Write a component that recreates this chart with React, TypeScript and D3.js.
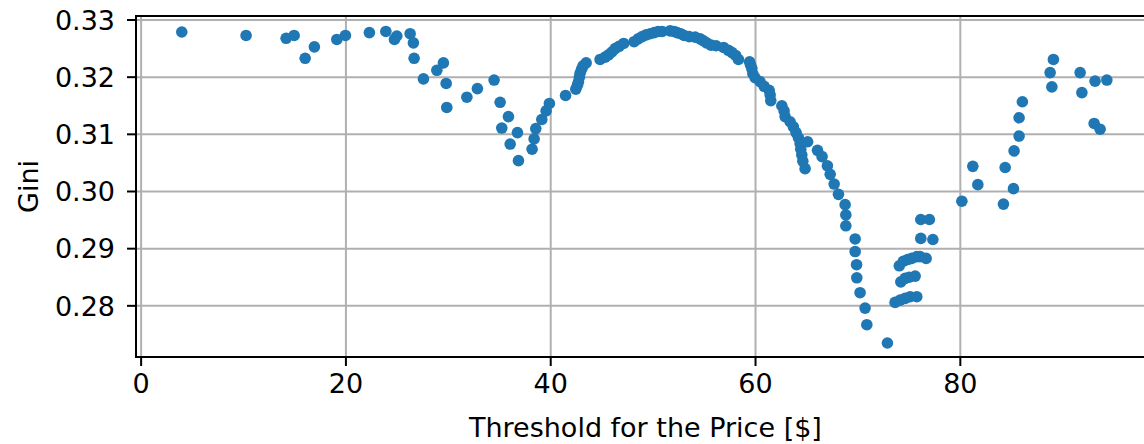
import React from "react";
import * as d3 from "d3";

// Price thresholds ($) and resulting Gini coefficient
const threshold: number[] = [
  3.97, 10.25, 14.16, 14.94, 16.02, 16.92, 19.11, 19.95, 22.29, 23.9,
  24.74, 24.97, 26.27, 26.59, 26.66, 27.57, 28.88, 29.52, 29.79, 29.85,
  31.81, 32.84, 34.47, 35.06, 35.87, 35.22, 36.75, 36.04, 36.85, 38.18,
  38.38, 38.54, 39.13, 39.55, 39.87, 41.45,
  42.45, 42.61, 42.71, 42.8, 42.87, 43.02, 43.16, 43.46, 44.82, 45.31,
  45.65, 45.97, 46.29, 46.68, 47.12, 48.14, 48.54, 48.93, 49.32, 49.71,
  50.1, 50.49, 50.88, 51.66, 52.05, 52.34, 52.69, 53.03, 53.52, 54.1,
  54.59, 54.88, 55.22, 55.66, 56.15, 56.88, 57.35, 57.71, 58.06, 58.33,
  59.42, 59.52, 59.64, 59.74, 59.96, 60.45, 60.84, 61.33, 61.43, 61.49,
  62.57, 62.79, 62.89, 63.38, 63.7, 63.96, 64.19, 64.36, 64.42, 64.52,
  64.62, 64.84, 65.09, 66.05, 66.5, 67.02, 67.29, 67.68, 68.1, 68.75,
  68.82, 68.82, 69.73, 69.73, 69.87, 69.89, 70.21, 70.7, 70.87, 72.88,
  73.63, 74.12, 74.61, 75.1, 75.75, 74.19, 74.61, 75.0, 75.59, 74.04,
  74.43, 74.85, 75.25, 75.75, 76.07, 76.66, 76.14, 77.32, 76.14, 76.98,
  80.15, 81.22, 81.71, 84.21, 84.38, 85.19, 85.25, 85.74, 85.74, 86.06,
  88.77, 89.09, 88.94, 91.7, 91.87, 93.16, 94.31, 93.07, 93.65,
];

const gini: number[] = [
  0.3279, 0.3273, 0.3268, 0.3273, 0.3233, 0.3253, 0.3266, 0.3273, 0.3278, 0.328,
  0.3266, 0.3272, 0.3276, 0.326, 0.3233, 0.3197, 0.3212, 0.3225, 0.3189, 0.3147,
  0.3165, 0.318, 0.3195, 0.3156, 0.3131, 0.3111, 0.3103, 0.3083, 0.3054, 0.3074,
  0.3092, 0.311, 0.3126, 0.3141, 0.3154, 0.3168,
  0.3179, 0.3186, 0.3192, 0.32, 0.3207, 0.3214, 0.322, 0.3225, 0.3231, 0.3235,
  0.3239, 0.3244, 0.325, 0.3254, 0.3259, 0.3262, 0.3267, 0.3271, 0.3274, 0.3276,
  0.3278, 0.328, 0.328, 0.3281, 0.328, 0.3278, 0.3276, 0.3273, 0.3271, 0.327,
  0.3267, 0.3264, 0.326, 0.3256, 0.3255, 0.3252, 0.3247, 0.3243, 0.3238, 0.3231,
  0.3227, 0.3221, 0.3215, 0.3206, 0.3199, 0.3192, 0.3184, 0.3177, 0.3169, 0.3159,
  0.315, 0.3141, 0.3131, 0.3122, 0.3113, 0.3103, 0.3094, 0.3084, 0.3074, 0.3064,
  0.3053, 0.304, 0.3087, 0.3072, 0.3061, 0.3045, 0.303, 0.3013, 0.2995, 0.2977,
  0.2959, 0.294, 0.2917, 0.2895, 0.2872, 0.2849, 0.2823, 0.2796, 0.2767, 0.2735,
  0.2806, 0.281, 0.2813, 0.2816, 0.2816, 0.2842, 0.2848, 0.285, 0.2852, 0.287,
  0.2878, 0.2881, 0.2883, 0.2886, 0.2886, 0.2883, 0.2918, 0.2916, 0.2951, 0.2951,
  0.2983, 0.3044, 0.3012, 0.2978, 0.3042, 0.3005, 0.3071, 0.3097, 0.3129, 0.3157,
  0.3208, 0.3231, 0.3183, 0.3208, 0.3173, 0.3193, 0.3195, 0.3119, 0.3109,
];

const xTicks: number[] = [0, 20, 40, 60, 80];
const yTicks: number[] = [0.28, 0.29, 0.3, 0.31, 0.32, 0.33];

const xLabel = "Threshold for the Price [$]";
const yLabel = "Gini";

const W = 1144;
const H = 444;
const FONT = "'DejaVu Sans', sans-serif";

export default function App() {
  const left = 136;
  const top = 16;
  const bottom = 357;
  const x = d3.scaleLinear().domain([-0.5, 99]).range([left, left + 99.5 * 10.24]);
  const y = d3.scaleLinear().domain([0.27105, 0.3307]).range([bottom, top]);
  const right = x.range()[1];
  const points = threshold.map((t, i) => ({ t, g: gini[i] }));
  const grid = "#b0b0b0";
  const fs = 27;

  return (
    <svg
      width={W}
      height={H}
      style={{ position: "absolute", left: 0, top: 0, background: "#fff" }}
      fontFamily={FONT}
    >
      <rect x={0} y={0} width={W} height={H} fill="#fff" />
      {/* grid */}
      {xTicks.map((t) => (
        <line key={"gx" + t} x1={x(t)} x2={x(t)} y1={top} y2={bottom} stroke={grid} strokeWidth={2} />
      ))}
      {yTicks.map((t) => (
        <line key={"gy" + t} x1={left} x2={right} y1={y(t)} y2={y(t)} stroke={grid} strokeWidth={2} />
      ))}
      {/* points */}
      {points.map((p, i) => (
        <circle key={i} cx={x(p.t)} cy={y(p.g)} r={5.8} fill="#1f77b4" />
      ))}
      {/* spines */}
      <rect x={left} y={top} width={right - left} height={bottom - top} fill="none" stroke="#000" strokeWidth={2} />
      {/* x ticks */}
      {xTicks.map((t) => (
        <g key={"tx" + t}>
          <line x1={x(t)} x2={x(t)} y1={bottom} y2={bottom + 9} stroke="#000" strokeWidth={2} />
          <text x={x(t)} y={393} textAnchor="middle" fontSize={fs} fill="#000">
            {t}
          </text>
        </g>
      ))}
      {/* y ticks */}
      {yTicks.map((t) => (
        <g key={"ty" + t}>
          <line x1={left - 9} x2={left} y1={y(t)} y2={y(t)} stroke="#000" strokeWidth={2} />
          <text x={left - 21} y={y(t)} dy="0.36em" textAnchor="end" fontSize={fs} fill="#000">
            {d3.format(".2f")(t)}
          </text>
        </g>
      ))}
      <text x={(left + right) / 2} y={437} textAnchor="middle" fontSize={fs} fill="#000">
        {xLabel}
      </text>
      <text
        transform={`translate(38,${(top + bottom) / 2}) rotate(-90)`}
        textAnchor="middle"
        fontSize={fs}
        fill="#000"
      >
        {yLabel}
      </text>
    </svg>
  );
}
